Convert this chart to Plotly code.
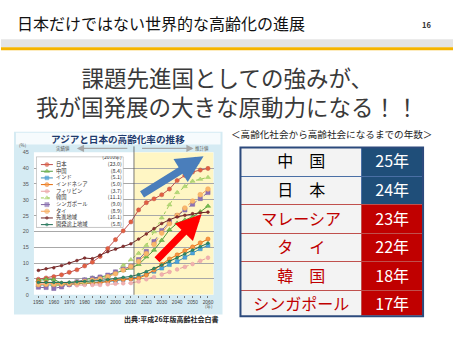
import plotly.graph_objects as go

W, H = 453, 340
def px(x):
    return x / W
def py(y):
    return 1 - y / H

FONT = "Noto Sans CJK JP"

# ---------------- data ----------------
years = list(range(1950, 2065, 5))
series_names = ["日本", "中国", "インド", "インドネシア", "フィリピン",
                "韓国", "シンガポール", "タイ", "先進地域", "開発途上地域"]
japan = [4.9, 5.3, 5.7, 6.3, 7.1, 7.9, 9.1, 10.3, 12.1, 14.6, 17.4, 20.2, 23.0,
         26.8, 29.1, 30.3, 31.6, 33.4, 36.1, 37.7, 38.8, 39.4, 39.9]
china = [4.5, 4.9, 4.8, 3.7, 3.8, 4.1, 4.7, 5.3, 5.6, 6.1, 6.9, 7.7, 8.4,
         9.6, 12.0, 14.1, 17.2, 20.5, 22.6, 23.6, 24.6, 26.2, 28.0]
india = [3.1, 3.1, 3.0, 3.1, 3.3, 3.5, 3.6, 3.8, 3.9, 4.2, 4.4, 4.8, 5.1,
         5.6, 6.5, 7.4, 8.4, 9.5, 10.5, 11.8, 13.2, 14.5, 15.6]
indonesia = [4.0, 3.9, 3.6, 3.4, 3.3, 3.4, 3.6, 3.7, 3.8, 4.2, 4.7, 4.8, 5.0,
             5.2, 6.3, 7.8, 9.6, 11.3, 12.6, 13.9, 15.1, 16.4, 17.6]
philippines = [3.6, 3.3, 3.1, 3.0, 3.0, 3.0, 3.1, 3.1, 3.1, 3.3, 3.5, 3.6, 3.7,
               4.2, 4.9, 5.6, 6.4, 7.2, 8.0, 8.8, 9.7, 10.7, 11.7]
korea = [2.9, 3.1, 2.9, 3.2, 3.3, 3.6, 3.8, 4.3, 5.1, 5.9, 7.2, 9.3, 11.1,
         13.1, 15.6, 19.9, 24.3, 28.4, 32.3, 34.2, 35.9, 36.5, 37.1]
singapore = [2.4, 2.3, 2.0, 2.5, 3.3, 4.1, 4.7, 5.2, 5.6, 6.2, 7.2, 8.1, 9.0,
             11.1, 13.7, 16.8, 20.3, 23.0, 25.0, 26.8, 28.6, 30.4, 32.3]
thailand = [3.2, 3.3, 3.3, 3.4, 3.5, 3.8, 4.2, 4.6, 5.0, 5.7, 6.6, 7.8, 8.9,
            10.5, 13.0, 15.9, 19.5, 22.5, 25.1, 27.4, 29.6, 31.6, 33.4]
developed = [7.7, 8.2, 8.5, 9.2, 10.0, 10.8, 11.6, 11.4, 12.5, 13.6, 14.4, 15.3, 16.1,
             17.6, 19.2, 20.9, 22.5, 23.7, 24.6, 25.1, 25.6, 25.9, 26.1]
developing = [3.9, 3.9, 3.9, 3.8, 3.9, 4.1, 4.2, 4.4, 4.5, 4.8, 5.1, 5.5, 5.8,
              6.4, 7.3, 8.3, 9.4, 10.5, 11.7, 12.9, 14.1, 15.2, 16.3]
series_values = [japan, china, india, indonesia, philippines,
                 korea, singapore, thailand, developed, developing]
legend_year = 2010
boundary_year = 2012
ytick_vals = list(range(0, 50, 5))
xtick_vals = list(range(1950, 2070, 10))

table_labels = ["中　国", "日　本", "マレーシア", "タ　イ", "韓　国", "シンガポール"]
table_years = [25, 24, 23, 22, 18, 17]

# ---------------- styles ----------------
styles = [
    dict(lc="#c0504d", mc="#e2603f", sym="circle", ms=4.2, dash="solid"),
    dict(lc="#4f9a3c", mc="#7cbf4e", sym="triangle-up", ms=4.6, dash="solid"),
    dict(lc="#3c8fb8", mc="#4aa3df", sym="square", ms=3.8, dash="solid"),
    dict(lc="#e46c0a", mc="#f79646", sym="circle", ms=4.2, dash="solid"),
    dict(lc="#e8a0a0", mc="#f0b0b0", sym="circle", ms=3.8, dash="dash"),
    dict(lc="#9bcb59", mc="#b5d77b", sym="triangle-up", ms=4.4, dash="dot"),
    dict(lc="#8064a2", mc="#8c72b5", sym="square", ms=4.2, dash="dash"),
    dict(lc="#f2a25c", mc="#f9b86a", sym="circle", ms=4.8, dash="dash"),
    dict(lc="#6b2222", mc="#8a3030", sym="circle", ms=2.8, dash="solid"),
    dict(lc="#1e6b52", mc="#2f8d6a", sym="circle", ms=2.8, dash="solid"),
]

fig = go.Figure()

# main chart lines
for name, vals, st in zip(series_names, series_values, styles):
    fig.add_trace(go.Scatter(
        x=years, y=vals, mode="lines+markers", name=name, showlegend=False,
        line=dict(color=st["lc"], width=1, dash=st["dash"]),
        marker=dict(symbol=st["sym"], size=st["ms"], color=st["mc"],
                    line=dict(color=st["lc"], width=0.5)),
        xaxis="x", yaxis="y", hoverinfo="skip"))

# custom compact legend (separate axis)
n = len(series_names)
LX0, LX1 = 0, 88
LY0, LY1 = -1.25, 9.5
fig.add_trace(go.Scatter(
    x=[0.4, 87.6, 87.6, 0.4, 0.4], y=[LY0 + 0.08, LY0 + 0.08, LY1 - 0.08, LY1 - 0.08, LY0 + 0.08],
    fill="toself", fillcolor="white", mode="lines",
    line=dict(color="#9a9a9a", width=0.6), showlegend=False,
    xaxis="x2", yaxis="y2", hoverinfo="skip"))
for i, st in enumerate(styles):
    fig.add_trace(go.Scatter(
        x=[5, 11, 17], y=[i, i, i], mode="lines+markers", showlegend=False,
        line=dict(color=st["lc"], width=1, dash=st["dash"]),
        marker=dict(symbol=st["sym"], size=[0, st["ms"], 0], color=st["mc"],
                    line=dict(color=st["lc"], width=0.5)),
        xaxis="x2", yaxis="y2", hoverinfo="skip"))
idx = years.index(legend_year)
fig.add_trace(go.Scatter(
    x=[20] * n, y=list(range(n)), mode="text", text=series_names,
    textposition="middle right", textfont=dict(family=FONT, size=5.3, color="#333"),
    showlegend=False, xaxis="x2", yaxis="y2", hoverinfo="skip"))
fig.add_trace(go.Scatter(
    x=[86] * n, y=list(range(n)), mode="text",
    text=[f"({v[idx]:.1f})" for v in series_values],
    textposition="middle left", textfont=dict(family=FONT, size=5.3, color="#333"),
    showlegend=False, xaxis="x2", yaxis="y2", hoverinfo="skip"))
fig.add_trace(go.Scatter(
    x=[86], y=[-0.95], mode="text", text=[f"({legend_year}年)"],
    textposition="middle left", textfont=dict(family=FONT, size=5, color="#333"),
    showlegend=False, xaxis="x2", yaxis="y2", hoverinfo="skip"))

# table
blue, red, lgray = "#1f4e79", "#c00000", "#f3f3f3"
left_font = ["#000000" if k < 2 else red for k in range(len(table_labels))]
right_fill = [blue if k < 2 else red for k in range(len(table_labels))]
line_cols = ["#4a6fa5" if k < 2 else "#c0504d" for k in range(len(table_labels))]
yr_txt = [f"{v}年" for v in table_years]
RH = 28.6
fig.add_trace(go.Table(
    domain=dict(x=[px(240), px(423)], y=[py(319), py(147)]),
    columnwidth=[122, 61],
    header=dict(values=[table_labels[0], yr_txt[0]], height=RH, align="center",
                fill=dict(color=[lgray, right_fill[0]]),
                line=dict(color=[line_cols[0], line_cols[0]], width=1),
                font=dict(family=FONT, size=16, color=[left_font[0], "#ffffff"])),
    cells=dict(values=[table_labels[1:], yr_txt[1:]], height=RH, align="center",
               fill=dict(color=[[lgray] * 5, right_fill[1:]]),
               line=dict(color=[line_cols[1:], line_cols[1:]], width=1),
               font=dict(family=FONT, size=16, color=[left_font[1:], ["#ffffff"] * 5]))))

shapes = [
    # header band
    dict(type="rect", xref="paper", yref="paper", x0=0, x1=1, y0=py(45), y1=py(37),
         fillcolor="#e4e4e4", line_width=0, layer="below"),
    dict(type="rect", xref="paper", yref="paper", x0=0, x1=1, y0=py(48), y1=py(45),
         fillcolor="#f5b400", line_width=0, layer="below"),
    # chart background box
    dict(type="rect", xref="paper", yref="paper", x0=px(13), x1=px(222), y0=py(317), y1=py(131),
         fillcolor="#d5ebf3", line_width=0, layer="below"),
    dict(type="rect", xref="paper", yref="paper", x0=px(15), x1=px(220), y0=py(144), y1=py(132),
         fillcolor="#f6fbfd", line_width=0, layer="below"),
    # white plot area
    dict(type="rect", xref="paper", yref="paper", x0=px(33), x1=px(213), y0=py(297), y1=py(152),
         fillcolor="white", line_width=0, layer="below"),
    # projection region
    dict(type="rect", xref="x", yref="y", x0=boundary_year, x1=2063.6, y0=0, y1=45,
         fillcolor="#fff6c4", line_width=0, layer="below"),
    dict(type="line", xref="x", yref="paper", x0=boundary_year, x1=boundary_year,
         y0=py(297), y1=py(146), line=dict(color="#555555", width=0.8), layer="above"),
    # table outer border
    dict(type="rect", xref="paper", yref="paper", x0=px(240), x1=px(423), y0=py(319), y1=py(147),
         line=dict(color="#2c4a7c", width=2), fillcolor="rgba(0,0,0,0)", layer="above"),
]

def ann(text, x, y, size, color="#333", weight="normal", xanchor="center", **kw):
    return dict(text=text, x=px(x), y=py(y), xref="paper", yref="paper", showarrow=False,
                xanchor=xanchor, yanchor="middle",
                font=dict(family=FONT, size=size, color=color, weight=weight), **kw)

annotations = [
    ann("日本だけではない世界的な高齢化の進展", 14, 20, 16, color="#111", xanchor="left"),
    ann("16", 426, 22, 7.5, color="#333", weight="bold"),
    ann("課題先進国としての強みが、<br>我が国発展の大きな原動力になる！！", 227, 90.5, 22.5,
        color="#3a3a3a"),
    ann("アジアと日本の高齢化率の推移", 117, 138, 9.6, color="#1f3b6e", weight="bold"),
    ann("(%)", 22, 145, 4.5, color="#555"),
    ann("実績値", 62, 148, 4.5, color="#555"),
    ann("推計値", 201, 148, 4.5, color="#555"),
    ann("(年)", 208, 309, 4.5, color="#555"),
    ann("出典:平成26年版高齢社会白書", 171, 322, 7, color="#222", weight="bold"),
    ann("＜高齢化社会から高齢社会になるまでの年数＞", 331.5, 133, 9.6, color="#222"),
]
# small gray arrows (actual / projected)
for tip, tail in [((76, 148), (128, 148)), ((193, 148), (140, 148))]:
    annotations.append(dict(text="", x=px(tip[0]), y=py(tip[1]), xref="paper", yref="paper",
                            ax=tail[0] - tip[0], ay=tail[1] - tip[1], showarrow=True,
                            arrowhead=2, arrowsize=1.2, arrowwidth=1.2, arrowcolor="#a6a6a6"))
# big trend arrows
annotations.append(dict(text="", x=px(203), y=py(156), xref="paper", yref="paper",
                        ax=140 - 203, ay=195 - 156, showarrow=True, arrowhead=2,
                        arrowsize=0.72, arrowwidth=7.5, arrowcolor="#4a7ebb", standoff=0))
annotations.append(dict(text="", x=px(201), y=py(215), xref="paper", yref="paper",
                        ax=155 - 201, ay=262 - 215, showarrow=True, arrowhead=2,
                        arrowsize=0.72, arrowwidth=7, arrowcolor="#ff0000", standoff=0))

fig.update_layout(
    width=W, height=H, autosize=False,
    margin=dict(l=0, r=0, t=0, b=0),
    paper_bgcolor="white", plot_bgcolor="rgba(0,0,0,0)",
    showlegend=False,
    xaxis=dict(domain=[px(33), px(213)], range=[1947.1, 2063.6], tickvals=xtick_vals,
               ticks="outside", ticklen=2, tickcolor="#777", showgrid=False, zeroline=False,
               showline=False, tickfont=dict(family="Liberation Sans", size=4.8, color="#444"),
               minor=dict(dtick=5, tick0=1950, ticks="outside", ticklen=2, tickcolor="#777")),
    yaxis=dict(domain=[py(297), py(152)], range=[0, 45], tickvals=ytick_vals,
               showgrid=True, gridcolor="#a8a8a8", gridwidth=0.6, zeroline=False,
               ticks="", ticklabelstandoff=4,
               tickfont=dict(family="Liberation Sans", size=5.5, color="#555")),
    xaxis2=dict(domain=[px(35), px(123)], range=[LX0, LX1], visible=False),
    yaxis2=dict(domain=[py(229), py(156)], range=[LY1, LY0], visible=False),
    shapes=shapes,
    annotations=annotations,
)

fig.write_html("out.html")
